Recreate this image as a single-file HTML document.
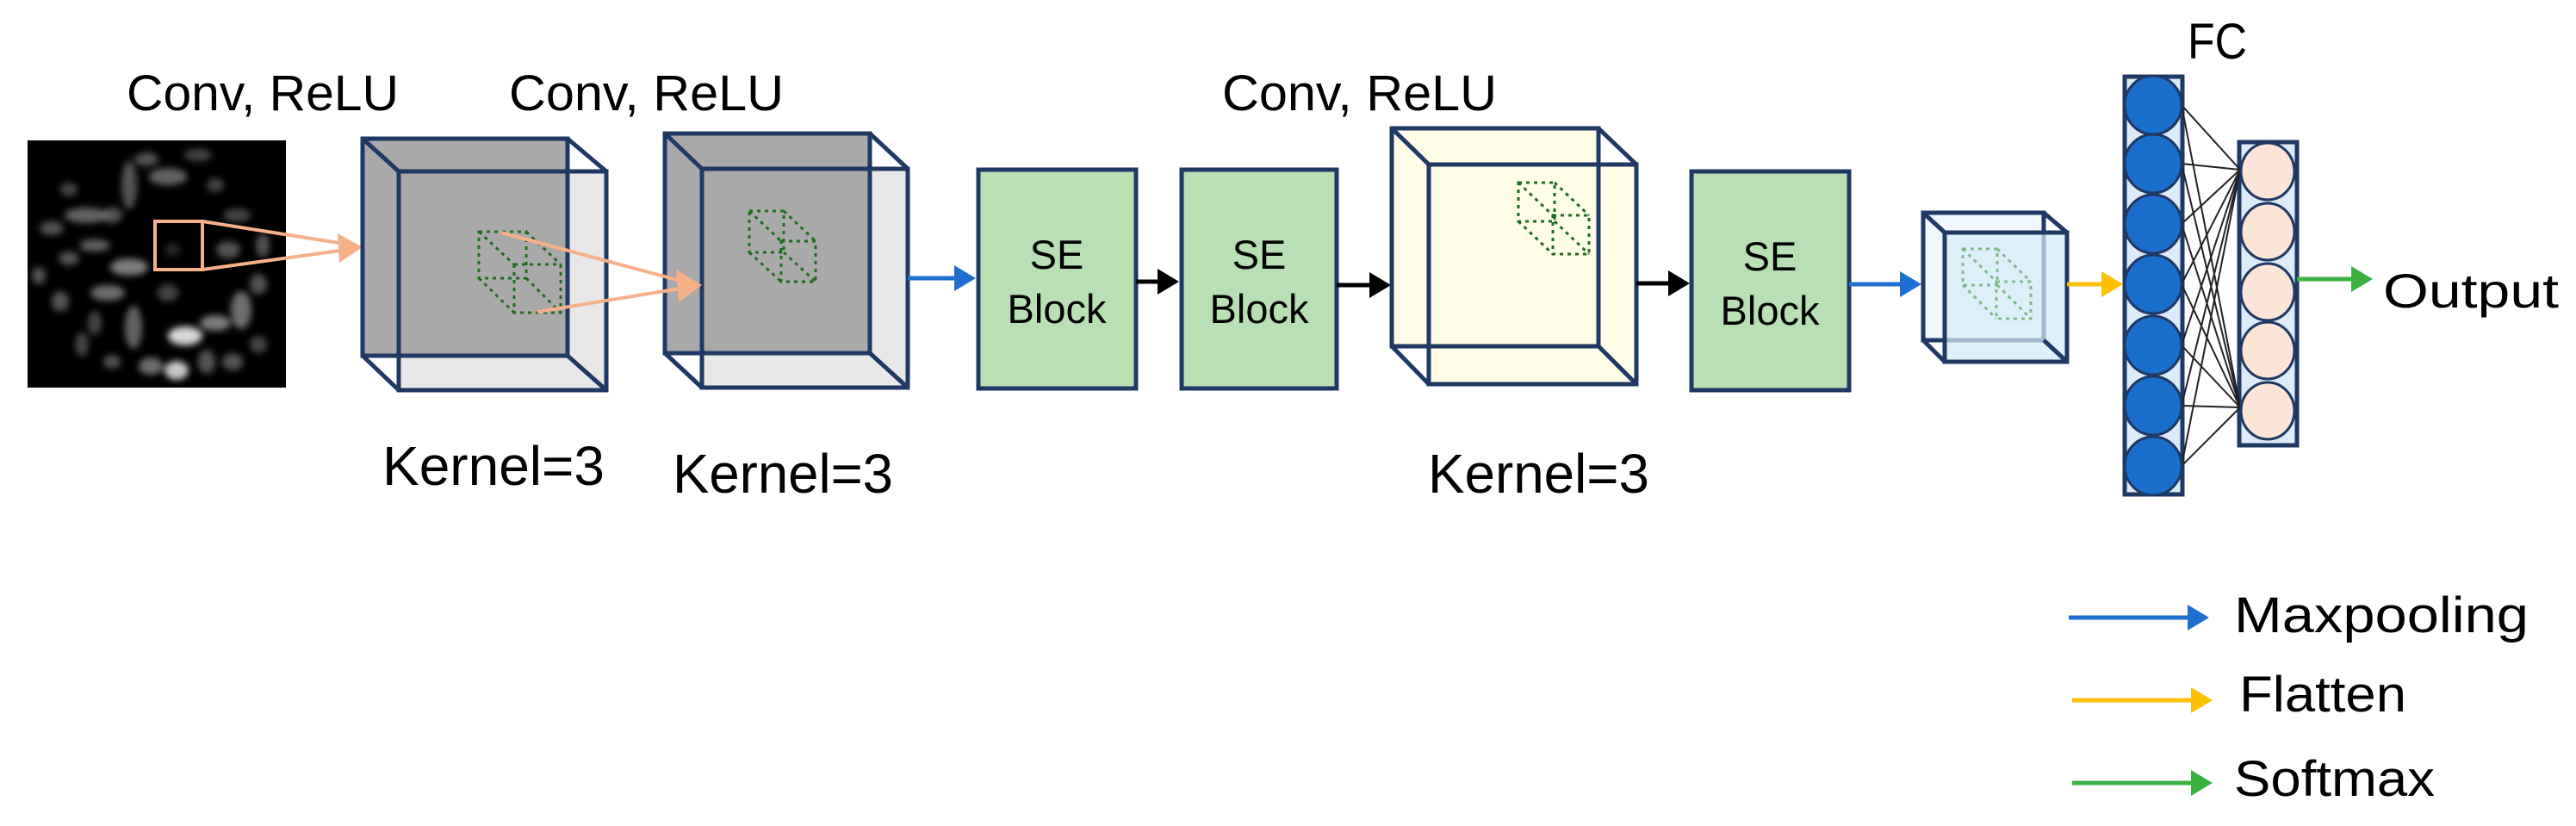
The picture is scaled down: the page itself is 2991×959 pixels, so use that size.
<!DOCTYPE html>
<html><head><meta charset="utf-8"><style>
html,body{margin:0;padding:0;background:#fff;}
svg{display:block;}
text{font-family:"Liberation Sans","DejaVu Sans",sans-serif;fill:#000;}
</style></head><body>
<svg width="2991" height="959" viewBox="0 0 2991 959" xmlns="http://www.w3.org/2000/svg">
<defs>
<filter id="bl" x="-20%" y="-20%" width="140%" height="140%"><feGaussianBlur stdDeviation="4"/></filter>
<marker id="ab" markerWidth="5" markerHeight="6" refX="4" refY="3" orient="auto" markerUnits="strokeWidth"><path d="M0,0 L5,3 L0,6 Z" fill="#1f6fd0"/></marker>
<marker id="ak" markerWidth="5" markerHeight="6" refX="4" refY="3" orient="auto" markerUnits="strokeWidth"><path d="M0,0 L5,3 L0,6 Z" fill="#000"/></marker>
<marker id="ay" markerWidth="5" markerHeight="6" refX="4" refY="3" orient="auto" markerUnits="strokeWidth"><path d="M0,0 L5,3 L0,6 Z" fill="#ffc000"/></marker>
<marker id="ag" markerWidth="5" markerHeight="6" refX="4" refY="3" orient="auto" markerUnits="strokeWidth"><path d="M0,0 L5,3 L0,6 Z" fill="#3cb043"/></marker>
</defs>

<text x="147" y="128" font-size="58" textLength="316" lengthAdjust="spacingAndGlyphs">Conv, ReLU</text>
<text x="591" y="128" font-size="58" textLength="319" lengthAdjust="spacingAndGlyphs">Conv, ReLU</text>
<text x="1419" y="128" font-size="58" textLength="319" lengthAdjust="spacingAndGlyphs">Conv, ReLU</text>
<text x="2540" y="68" font-size="58" textLength="69" lengthAdjust="spacingAndGlyphs">FC</text>

<rect x="32" y="163" width="300" height="287" fill="#000"/>
<g filter="url(#bl)" fill="#8a8a8a">
<ellipse cx="100" cy="250" rx="25" ry="9" opacity=".7"/>
<ellipse cx="150" cy="215" rx="9" ry="28" opacity=".6"/>
<ellipse cx="195" cy="205" rx="22" ry="10" opacity=".7"/>
<ellipse cx="170" cy="185" rx="14" ry="8" opacity=".6"/>
<ellipse cx="230" cy="180" rx="16" ry="7" opacity=".5"/>
<ellipse cx="80" cy="220" rx="10" ry="8" opacity=".5"/>
<ellipse cx="60" cy="265" rx="14" ry="8" opacity=".6"/>
<ellipse cx="130" cy="250" rx="12" ry="9" opacity=".6"/>
<ellipse cx="110" cy="285" rx="18" ry="7" opacity=".7"/>
<ellipse cx="150" cy="310" rx="22" ry="10" opacity=".9"/>
<ellipse cx="125" cy="340" rx="20" ry="9" opacity=".8"/>
<ellipse cx="80" cy="300" rx="12" ry="8" opacity=".6"/>
<ellipse cx="45" cy="320" rx="8" ry="10" opacity=".6"/>
<ellipse cx="70" cy="350" rx="10" ry="12" opacity=".6"/>
<ellipse cx="110" cy="375" rx="8" ry="14" opacity=".5"/>
<ellipse cx="155" cy="380" rx="10" ry="25" opacity=".7"/>
<ellipse cx="195" cy="340" rx="12" ry="10" opacity=".5"/>
<ellipse cx="215" cy="390" rx="20" ry="11" fill="#d8d8d8"/>
<ellipse cx="250" cy="375" rx="18" ry="9" opacity=".9"/>
<ellipse cx="175" cy="425" rx="14" ry="10" opacity=".8"/>
<ellipse cx="205" cy="430" rx="14" ry="11" fill="#c8c8c8"/>
<ellipse cx="130" cy="420" rx="10" ry="8" opacity=".6"/>
<ellipse cx="280" cy="360" rx="12" ry="22" opacity=".8"/>
<ellipse cx="300" cy="330" rx="10" ry="12" opacity=".6"/>
<ellipse cx="265" cy="290" rx="14" ry="10" opacity=".6"/>
<ellipse cx="305" cy="285" rx="8" ry="14" opacity=".6"/>
<ellipse cx="275" cy="250" rx="16" ry="8" opacity=".5"/>
<ellipse cx="250" cy="215" rx="10" ry="8" opacity=".5"/>
<ellipse cx="240" cy="420" rx="10" ry="14" opacity=".6"/>
<ellipse cx="270" cy="420" rx="12" ry="10" opacity=".6"/>
<ellipse cx="95" cy="400" rx="8" ry="14" opacity=".5"/>
<ellipse cx="300" cy="400" rx="10" ry="10" opacity=".5"/>
<ellipse cx="200" cy="290" rx="9" ry="7" opacity=".3"/>
</g>
<rect x="180" y="257" width="55" height="56" fill="none" stroke="#f8b088" stroke-width="4"/>
<line x1="235" y1="257" x2="400" y2="283" stroke="#f8b088" stroke-width="4"/>
<line x1="235" y1="313" x2="395" y2="291" stroke="#f8b088" stroke-width="4"/>
<path d="M392,271 L421,287 L394,305 Z" fill="#f8b088"/>

<g stroke="#1f3864" stroke-width="5">
<rect x="463" y="199" width="241" height="254" fill="#e8e8e8"/>
<rect x="421" y="161" width="238" height="252" fill="#a9a9a9"/>
<rect x="463" y="199" width="241" height="254" fill="none"/>
<line x1="421" y1="161" x2="463" y2="199"/><line x1="659" y1="161" x2="704" y2="199"/>
<line x1="421" y1="413" x2="463" y2="453"/><line x1="659" y1="413" x2="704" y2="453"/>
</g>
<g stroke="#1e6b1e" stroke-width="3" stroke-dasharray="4 5" fill="none">
<rect x="556" y="269" width="55" height="54"/><rect x="597" y="307" width="54" height="56"/>
<line x1="556" y1="269" x2="597" y2="307"/><line x1="611" y1="269" x2="651" y2="307"/>
<line x1="556" y1="323" x2="597" y2="363"/><line x1="611" y1="323" x2="651" y2="363"/>
</g>

<g stroke="#1f3864" stroke-width="5">
<rect x="815" y="196" width="239" height="254" fill="#e8e8e8"/>
<rect x="772" y="155" width="238" height="255" fill="#a9a9a9"/>
<rect x="815" y="196" width="239" height="254" fill="none"/>
<line x1="772" y1="155" x2="815" y2="196"/><line x1="1010" y1="155" x2="1054" y2="196"/>
<line x1="772" y1="410" x2="815" y2="450"/><line x1="1010" y1="410" x2="1054" y2="450"/>
</g>
<g stroke="#1e6b1e" stroke-width="3" stroke-dasharray="4 5" fill="none">
<rect x="870" y="245" width="40" height="48"/><rect x="907" y="280" width="40" height="47"/>
<line x1="870" y1="245" x2="907" y2="280"/><line x1="910" y1="245" x2="947" y2="280"/>
<line x1="870" y1="293" x2="907" y2="327"/><line x1="910" y1="293" x2="947" y2="327"/>
</g>
<line x1="582" y1="270" x2="790" y2="326" stroke="#f8b088" stroke-width="4"/>
<line x1="624" y1="362" x2="790" y2="335" stroke="#f8b088" stroke-width="4"/>
<path d="M785,313 L815,331 L788,351 Z" fill="#f8b088"/>
<line x1="1054" y1="323" x2="1128" y2="323" stroke="#1f6fd0" stroke-width="5" marker-end="url(#ab)"/>

<g stroke="#1f3864" stroke-width="5" fill="#b9e0b4">
<rect x="1136" y="197" width="183" height="254"/>
<rect x="1372" y="197" width="180" height="254"/>
<rect x="1964" y="199" width="183" height="254"/>
</g>
<g font-size="47" text-anchor="middle">
<text x="1227" y="312">SE</text><text x="1227" y="375">Block</text>
<text x="1462" y="312">SE</text><text x="1462" y="375">Block</text>
<text x="2055" y="314">SE</text><text x="2055" y="377">Block</text>
</g>
<line x1="1319" y1="327" x2="1364" y2="327" stroke="#000" stroke-width="5" marker-end="url(#ak)"/>
<line x1="1552" y1="331" x2="1610" y2="331" stroke="#000" stroke-width="5" marker-end="url(#ak)"/>

<g stroke="#1f3864" stroke-width="5">
<rect x="1659" y="191" width="241" height="255" fill="#fdfde8"/>
<rect x="1616" y="149" width="240" height="253" fill="#fdfde8"/>
<rect x="1659" y="191" width="241" height="255" fill="none"/>
<line x1="1616" y1="149" x2="1659" y2="191"/><line x1="1856" y1="149" x2="1900" y2="191"/>
<line x1="1616" y1="402" x2="1659" y2="446"/><line x1="1856" y1="402" x2="1900" y2="446"/>
</g>
<g stroke="#1e6b1e" stroke-width="3" stroke-dasharray="4 5" fill="none">
<rect x="1763" y="212" width="42" height="45"/><rect x="1803" y="250" width="42" height="45"/>
<line x1="1763" y1="212" x2="1803" y2="250"/><line x1="1805" y1="212" x2="1845" y2="250"/>
<line x1="1763" y1="257" x2="1803" y2="295"/><line x1="1805" y1="257" x2="1845" y2="295"/>
</g>
<line x1="1900" y1="329" x2="1957" y2="329" stroke="#000" stroke-width="5" marker-end="url(#ak)"/>
<line x1="2147" y1="330" x2="2226" y2="330" stroke="#1f6fd0" stroke-width="5" marker-end="url(#ab)"/>

<g stroke="#1f3864" stroke-width="5">
<rect x="2258" y="270" width="142" height="150" fill="#e6f4fb"/>
<rect x="2233" y="247" width="140" height="148" fill="#e6f4fb" fill-opacity=".6"/>
<rect x="2258" y="270" width="142" height="150" fill="#d9eef9" fill-opacity=".7"/>
<line x1="2233" y1="247" x2="2258" y2="270"/><line x1="2373" y1="247" x2="2400" y2="270"/>
<line x1="2233" y1="395" x2="2258" y2="420"/><line x1="2373" y1="395" x2="2400" y2="420"/>
</g>
<g stroke="#7fb88a" stroke-width="3" stroke-dasharray="4 5" fill="none">
<rect x="2279" y="289" width="40" height="42"/><rect x="2318" y="327" width="40" height="43"/>
<line x1="2279" y1="289" x2="2318" y2="327"/><line x1="2319" y1="289" x2="2358" y2="327"/>
<line x1="2279" y1="331" x2="2318" y2="370"/><line x1="2319" y1="331" x2="2358" y2="370"/>
</g>
<line x1="2400" y1="330" x2="2460" y2="330" stroke="#ffc000" stroke-width="5" marker-end="url(#ay)"/>

<rect x="2467" y="89" width="67" height="485" fill="#dcebf7" stroke="#1f3864" stroke-width="5"/>
<rect x="2600" y="165" width="67" height="352" fill="#dcebf7" stroke="#1f3864" stroke-width="5"/>
<g stroke="#222" stroke-width="2">
<line x1="2533" y1="122" x2="2601" y2="197"/><line x1="2533" y1="122" x2="2601" y2="473"/>
<line x1="2533" y1="190" x2="2601" y2="197"/><line x1="2533" y1="190" x2="2601" y2="473"/>
<line x1="2533" y1="260" x2="2601" y2="197"/><line x1="2533" y1="260" x2="2601" y2="473"/>
<line x1="2533" y1="330" x2="2601" y2="197"/><line x1="2533" y1="330" x2="2601" y2="473"/>
<line x1="2533" y1="401" x2="2601" y2="197"/><line x1="2533" y1="401" x2="2601" y2="473"/>
<line x1="2533" y1="471" x2="2601" y2="197"/><line x1="2533" y1="471" x2="2601" y2="473"/>
<line x1="2533" y1="541" x2="2601" y2="197"/><line x1="2533" y1="541" x2="2601" y2="473"/>
</g>
<g fill="#1a6fcc" stroke="#1f3864" stroke-width="3">
<ellipse cx="2500" cy="122" rx="33" ry="34"/><ellipse cx="2500" cy="190" rx="33" ry="34"/>
<ellipse cx="2500" cy="260" rx="33" ry="34"/><ellipse cx="2500" cy="330" rx="33" ry="34"/>
<ellipse cx="2500" cy="401" rx="33" ry="34"/><ellipse cx="2500" cy="471" rx="33" ry="34"/>
<ellipse cx="2500" cy="541" rx="33" ry="34"/>
</g>
<g fill="#fce4d6" stroke="#1f3864" stroke-width="3">
<ellipse cx="2633" cy="199" rx="31" ry="33"/><ellipse cx="2633" cy="269" rx="31" ry="33"/>
<ellipse cx="2633" cy="339" rx="31" ry="33"/><ellipse cx="2633" cy="407" rx="31" ry="33"/>
<ellipse cx="2633" cy="477" rx="31" ry="33"/>
</g>
<line x1="2667" y1="324" x2="2750" y2="324" stroke="#3cb043" stroke-width="5" marker-end="url(#ag)"/>
<text x="2767" y="357" font-size="56" textLength="204" lengthAdjust="spacingAndGlyphs">Output</text>

<text x="444" y="563" font-size="64" textLength="258" lengthAdjust="spacingAndGlyphs">Kernel=3</text>
<text x="781" y="572" font-size="64" textLength="256" lengthAdjust="spacingAndGlyphs">Kernel=3</text>
<text x="1658" y="572" font-size="64" textLength="257" lengthAdjust="spacingAndGlyphs">Kernel=3</text>

<line x1="2402" y1="717" x2="2560" y2="717" stroke="#1f6fd0" stroke-width="5" marker-end="url(#ab)"/>
<line x1="2406" y1="813" x2="2564" y2="813" stroke="#ffc000" stroke-width="5" marker-end="url(#ay)"/>
<line x1="2406" y1="909" x2="2564" y2="909" stroke="#3cb043" stroke-width="5" marker-end="url(#ag)"/>
<text x="2594" y="734" font-size="58" textLength="342" lengthAdjust="spacingAndGlyphs">Maxpooling</text>
<text x="2600" y="826" font-size="58" textLength="194" lengthAdjust="spacingAndGlyphs">Flatten</text>
<text x="2594" y="924" font-size="58" textLength="233" lengthAdjust="spacingAndGlyphs">Softmax</text>
</svg>
</body></html>
